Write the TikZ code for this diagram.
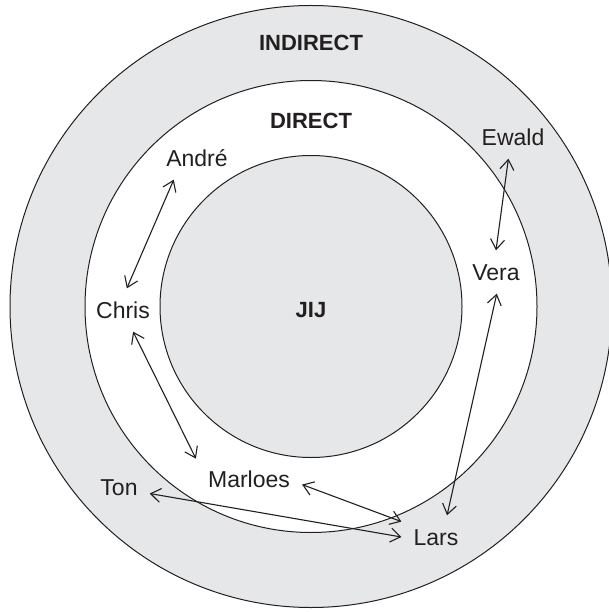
\documentclass[tikz,border=0pt]{standalone}
\usepackage{fontspec}
\setmainfont{Liberation Sans}
\usetikzlibrary{arrows.meta}
\definecolor{ringgray}{HTML}{E6E7E8}
\definecolor{ink}{HTML}{231F20}
\begin{document}
\begin{tikzpicture}[x=1pt,y=-1pt,line cap=round,line join=round,
	person/.style={text=ink,font=\fontsize{23}{27}\selectfont,text height=17pt,text depth=0pt,inner xsep=12pt,inner ysep=13pt},
	zone/.style={text=ink,font=\fontsize{22}{26}\selectfont\bfseries},
	link/.style={draw=ink,line width=1.1pt,{Straight Barb[length=10pt,width=14pt]}-{Straight Barb[length=10pt,width=14pt]}}]
		\useasboundingbox (0,0) rectangle (608,612);
		\coordinate (mid) at (311,306.5);
		\foreach \r/\c in {301/ringgray, 226/white, 151/ringgray}
		{
			\draw[ink,line width=1pt,fill=\c] (mid) circle (\r pt);
		}
		\node[zone] (indirect) at (311,43) {INDIRECT};
		\node[zone] (direct) at (311,121) {DIRECT};
		\node[zone] (jij) at (311,310) {JIJ};
		\node[person] (andre) at (197,158) {André};
		\node[person] (ewald) at (513,137) {Ewald};
		\node[person] (vera) at (496,272) {Vera};
		\node[person] (chris) at (123,310) {Chris};
		\node[person] (marloes) at (249,479) {Marloes};
		\node[person] (ton) at (119,487) {Ton};
		\node[person] (lars) at (436,537) {Lars};
		\draw[link] (andre.223) -- (chris.80);
		\draw[link] (ewald.-102) -- (vera.90);
		\draw[link] (vera.-88) -- (lars.63);
		\draw[link] (chris.-65) -- (marloes.159);
		\draw[link] (marloes.-6) -- (lars.156);
		\draw[link] (ton.-12) -- (lars.180);
\end{tikzpicture}
\end{document}
